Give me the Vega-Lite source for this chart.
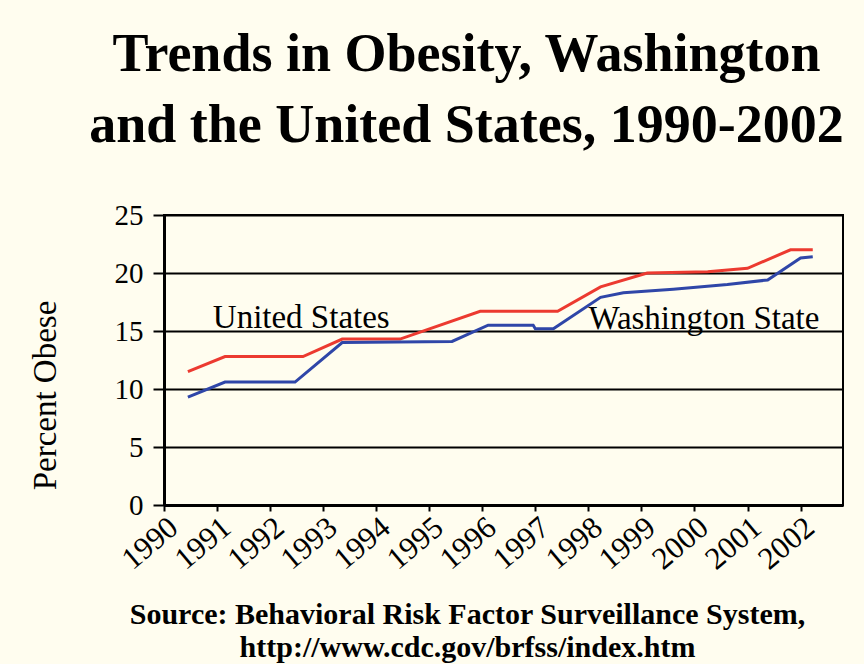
{
  "$schema": "https://vega.github.io/schema/vega-lite/v6.json",
  "width": 679,
  "height": 290,
  "autosize": "none",
  "padding": {"left": 164, "top": 215, "right": 21, "bottom": 159},
  "background": "#fffdef",
  "config": {
    "view": {"stroke": "black", "strokeWidth": 2},
    "font": "Liberation Serif"
  },
  "title": {
    "text": ["Trends in Obesity, Washington", "and the United States, 1990-2002"],
    "font": "Liberation Serif",
    "fontSize": 54,
    "fontWeight": "bold",
    "lineHeight": 71,
    "color": "black",
    "anchor": "middle",
    "frame": "group",
    "dx": -37,
    "dy": -44
  },
  "datasets": {
    "series": [
      {"region": "United States", "year": 1990.45, "pct": 11.5},
      {"region": "United States", "year": 1991.15, "pct": 12.8},
      {"region": "United States", "year": 1992.62, "pct": 12.8},
      {"region": "United States", "year": 1993.36, "pct": 14.3},
      {"region": "United States", "year": 1994.45, "pct": 14.3},
      {"region": "United States", "year": 1995.96, "pct": 16.7},
      {"region": "United States", "year": 1997.42, "pct": 16.7},
      {"region": "United States", "year": 1998.23, "pct": 18.8},
      {"region": "United States", "year": 1999.11, "pct": 20.0},
      {"region": "United States", "year": 2000.25, "pct": 20.1},
      {"region": "United States", "year": 2001.0, "pct": 20.4},
      {"region": "United States", "year": 2001.81, "pct": 22.0},
      {"region": "United States", "year": 2002.23, "pct": 22.0},
      {"region": "Washington State", "year": 1990.45, "pct": 9.3},
      {"region": "Washington State", "year": 1991.15, "pct": 10.6},
      {"region": "Washington State", "year": 1992.47, "pct": 10.6},
      {"region": "Washington State", "year": 1993.36, "pct": 14.0},
      {"region": "Washington State", "year": 1995.43, "pct": 14.1},
      {"region": "Washington State", "year": 1996.11, "pct": 15.5},
      {"region": "Washington State", "year": 1996.96, "pct": 15.5},
      {"region": "Washington State", "year": 1997.0, "pct": 15.2},
      {"region": "Washington State", "year": 1997.34, "pct": 15.2},
      {"region": "Washington State", "year": 1998.23, "pct": 17.9},
      {"region": "Washington State", "year": 1998.66, "pct": 18.3},
      {"region": "Washington State", "year": 1999.6, "pct": 18.6},
      {"region": "Washington State", "year": 2000.62, "pct": 19.0},
      {"region": "Washington State", "year": 2001.38, "pct": 19.4},
      {"region": "Washington State", "year": 2002.0, "pct": 21.3},
      {"region": "Washington State", "year": 2002.23, "pct": 21.4}
    ],
    "labels": [
      {"label": "United States", "year": 1990.92, "pct": 15.25},
      {"label": "Washington State", "year": 1998.0, "pct": 15.2}
    ]
  },
  "layer": [
    {
      "data": {"name": "series"},
      "mark": {"type": "line", "strokeWidth": 3, "strokeCap": "butt", "strokeJoin": "miter"},
      "encoding": {
        "x": {
          "field": "year", "type": "quantitative",
          "scale": {"domain": [1990, 2002.8], "nice": false, "zero": false},
          "axis": {
            "values": [1990, 1991, 1992, 1993, 1994, 1995, 1996, 1997, 1998, 1999, 2000, 2001, 2002],
            "format": "d",
            "grid": false,
            "domainColor": "black", "domainWidth": 3,
            "tickColor": "black", "tickWidth": 2, "tickSize": 6,
            "labelAngle": -40, "labelAlign": "right", "labelBaseline": "top",
            "labelFont": "Liberation Serif", "labelFontSize": 31, "labelColor": "black",
            "labelPadding": 1, "labelDx": 4, "labelOverlap": false, "labelFlush": false,
            "title": ["Source: Behavioral Risk Factor Surveillance System,", "http://www.cdc.gov/brfss/index.htm"],
            "titleFont": "Liberation Serif", "titleFontSize": 30, "titleFontWeight": "bold",
            "titleColor": "black", "titleLineHeight": 33,
            "titleX": 303, "titleY": 118, "titleAlign": "center", "titleBaseline": "alphabetic"
          }
        },
        "y": {
          "field": "pct", "type": "quantitative",
          "scale": {"domain": [0, 25], "nice": false},
          "axis": {
            "values": [0, 5, 10, 15, 20, 25],
            "grid": true, "gridColor": "black", "gridWidth": 2, "gridOpacity": 1,
            "domainColor": "black", "domainWidth": 3,
            "tickColor": "black", "tickWidth": 2, "tickSize": 11,
            "labelFont": "Liberation Serif", "labelFontSize": 29, "labelColor": "black",
            "labelPadding": 10,
            "title": "Percent Obese",
            "titleFont": "Liberation Serif", "titleFontSize": 33, "titleFontWeight": "normal",
            "titleColor": "black", "titleX": -119, "titleY": 180,
            "titleAlign": "center", "titleBaseline": "middle", "titleAngle": -90
          }
        },
        "color": {
          "field": "region", "type": "nominal",
          "scale": {"domain": ["United States", "Washington State"], "range": ["#ec3a30", "#2f46a8"]},
          "legend": null
        }
      }
    },
    {
      "data": {"name": "labels"},
      "mark": {"type": "text", "align": "left", "baseline": "alphabetic", "font": "Liberation Serif", "fontSize": 33, "color": "black"},
      "encoding": {
        "x": {"field": "year", "type": "quantitative"},
        "y": {"field": "pct", "type": "quantitative"},
        "text": {"field": "label"}
      }
    }
  ]
}
